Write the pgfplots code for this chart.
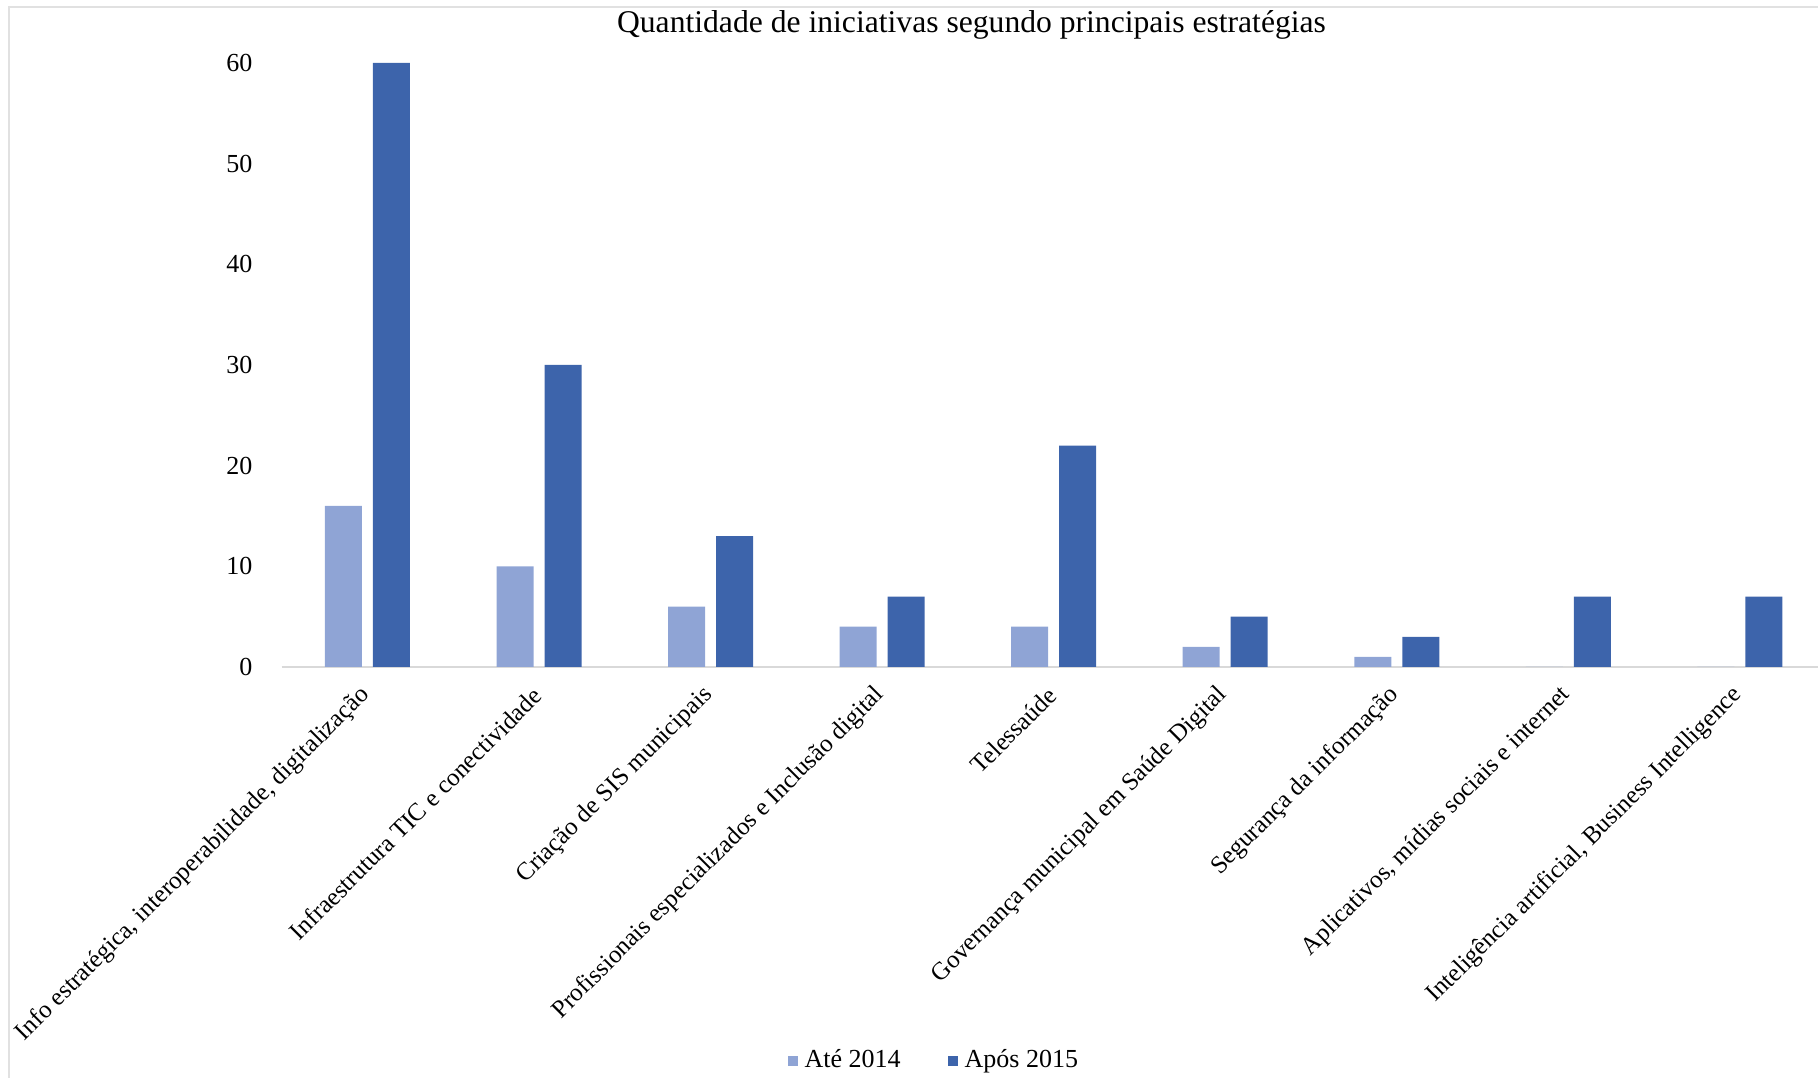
\documentclass[border=0pt]{standalone}
\usepackage{fontspec}
\setmainfont{Liberation Serif}
\usepackage{pgfplots}
\pgfplotsset{compat=1.18}
\definecolor{lightb}{RGB}{143,164,213}
\definecolor{darkb}{RGB}{61,100,171}
\definecolor{axgray}{RGB}{217,217,217}
\definecolor{bordergray}{RGB}{225,225,225}
\newcommand{\sm}{\fontsize{7.4}{8.8}\selectfont}
\newcommand{\lb}{\fontsize{7.1}{8.5}\selectfont}
\pgfplotsset{sqlegend/.style={legend image code/.code={\draw[##1,/tikz/.cd,draw=none] (0cm,-0.05cm) rectangle (0.10cm,0.05cm);}}}
\begin{document}
\begin{tikzpicture}[x=1cm,y=1cm]
\path[use as bounding box] (0,0) rectangle (18.18,10.78);
\draw[bordergray, line width=0.5pt] (0.09,0) -- (0.09,10.71) -- (18.18,10.71);
\node[font=\fontsize{9}{11}\selectfont] at (9.715,10.53) {Quantidade de iniciativas segundo principais estratégias};
\begin{axis}[
  at={(2.817cm,4.11cm)}, anchor=south west,
  scale only axis, width=15.44cm, height=6.04cm,
  xmin=-0.5, xmax=8.5, ymin=0, ymax=60,
  axis lines*=left,
  y axis line style={draw=none},
  x axis line style={draw=axgray, line width=0.6pt},
  tick style={draw=none},
  major tick length=0pt,
  ybar=0.11cm, bar width=0.37cm,
  ytick={0,10,20,30,40,50,60},
  /pgf/number format/assume math mode=true,
  yticklabel style={font=\sm, xshift=-0.17cm},
  xtick={0,1,2,3,4,5,6,7,8},
  xticklabels={{Info estratégica, interoperabilidade, digitalização},
    {Infraestrutura TIC e conectividade},
    {Criação de SIS municipais},
    {Profissionais especializados e Inclusão digital},
    {Telessaúde},
    {Governança municipal em Saúde Digital},
    {Segurança da informação},
    {Aplicativos, mídias sociais e internet},
    {Inteligência artificial, Business Intelligence}},
  xticklabel style={font=\lb, xshift=0.07cm, yshift=-0.16cm, rotate=45, anchor=east},
  legend columns=2,
  legend style={at={(rel axis cs:0.424,-0.652)}, anchor=center, draw=none, fill=none,
    font=\sm, inner sep=0pt,
    /tikz/every even column/.append style={column sep=0.4cm}},
]
\addplot[fill=lightb, draw=none, sqlegend] coordinates {(0,16) (1,10) (2,6) (3,4) (4,4) (5,2) (6,1) (7,0) (8,0)};
\addlegendentry{Até 2014}
\addplot[fill=darkb, draw=none, sqlegend] coordinates {(0,60) (1,30) (2,13) (3,7) (4,22) (5,5) (6,3) (7,7) (8,7)};
\addlegendentry{Após 2015}
\end{axis}
\end{tikzpicture}
\end{document}
